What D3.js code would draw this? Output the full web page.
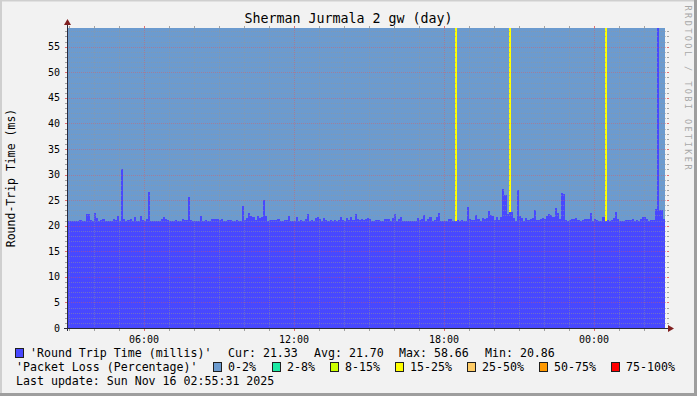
<!DOCTYPE html>
<html><head><meta charset="utf-8">
<script src="https://cdn.jsdelivr.net/npm/d3@7"></script>
<style>body{margin:0;background:#f2f2f2}svg{display:block}</style>
</head><body><svg id="c" width="697" height="396"></svg>
<script>
const chartTitle = "Sherman Jurmala 2 gw (day)";
const yAxisTitle = "Round-Trip Time (ms)";
const watermark = "RRDTOOL / TOBI OETIKER";
const startTime = new Date("2025-11-15T02:55:31Z");
const endTime = new Date("2025-11-16T02:55:31Z");
const stepSeconds = 300;
const yMax = 58.66;

// Round trip time, one value per 5-minute step (ms)
const rttValues = [
 20.9,20.9,21.0,20.9,20.9,21.0,21.1,20.9,20.9,22.3, 22.2,21.1,20.9,22.5,21.6,20.9,21.1,21.4,20.9,20.9,
 20.9,20.9,21.3,21.1,21.9,20.9,31.1,21.4,20.9,21.1, 21.3,20.9,21.7,20.9,20.9,21.9,21.2,20.9,21.3,26.5,
 21.0,20.9,20.9,20.9,20.9,21.3,21.7,21.3,21.1,20.9, 20.9,20.9,21.1,21.0,20.9,21.3,21.1,21.1,25.6,21.1,
 20.9,20.9,20.9,20.9,21.9,20.9,21.1,20.9,20.9,21.3, 21.3,21.3,21.3,21.1,21.3,20.9,20.9,21.1,21.1,20.9,
 20.9,21.1,20.9,20.9,23.9,21.1,21.5,22.5,21.9,21.7, 21.1,21.9,21.5,21.7,25.0,21.9,20.9,21.1,21.1,21.1,
 21.1,21.3,20.9,20.9,21.1,21.1,21.9,20.9,20.9,20.9, 21.7,20.9,21.1,20.9,21.3,22.3,20.9,21.1,20.9,21.5,
 21.7,21.3,20.9,21.5,21.1,20.9,21.1,20.9,21.1,20.9, 21.1,21.7,21.1,20.9,21.5,21.1,21.7,21.1,22.3,21.3,
 21.1,21.3,21.1,21.3,21.5,21.3,20.9,20.9,21.1,21.1, 20.9,20.9,21.3,21.3,21.3,20.9,21.5,22.3,20.9,21.3,
 21.7,20.9,20.9,20.9,20.9,20.9,20.9,20.9,21.5,21.1, 21.3,22.1,20.9,21.3,21.7,20.9,21.1,21.7,22.5,20.9,
 20.9,20.9,20.9,21.3,21.3,20.9,20.9,21.1,20.9,21.1, 20.9,20.9,23.7,21.3,21.1,21.1,22.1,21.3,20.9,21.5,
 21.3,21.5,22.9,22.1,21.9,21.1,21.7,21.1,21.7,27.2, 26.0,22.3,22.7,22.7,21.5,20.9,27.0,21.9,21.5,20.9,
 21.5,21.1,21.3,21.5,23.1,21.1,21.1,21.3,21.5,21.3, 21.9,22.3,22.1,21.7,23.5,22.5,21.3,26.3,26.2,21.1,
 20.9,21.1,21.3,21.3,21.5,21.1,20.9,21.1,21.3,21.3, 21.3,22.5,20.9,21.3,21.1,20.9,20.9,21.7,20.9,21.1,
 20.9,21.1,21.5,22.7,21.3,20.9,20.9,20.9,21.1,21.1, 21.1,21.3,20.9,21.1,20.9,21.3,21.7,21.7,21.3,20.9,
 21.1,21.1,23.3,58.66,23.1,23.1,21.33
];

// Packet loss events (all other steps: 0 %)
const lossTimes = ["2025-11-15T18:25:31Z", "2025-11-15T20:35:31Z", "2025-11-16T00:25:31Z"];
const lossPct = [20, 20, 20];

const lossCategories = ["0-2%", "2-8%", "8-15%", "15-25%", "25-50%", "50-75%", "75-100%"];
const lossUpper = [2, 8, 15, 25, 50, 75, 100];
const lossColors = ["#6c9bcf", "#1de9a4", "#ccff00", "#ffff00", "#ffcc66", "#ff9900", "#ff0000"];

const rttLabel = "'Round Trip Time (millis)'";
const lossLabel = "'Packet Loss (Percentage)'";
const statNames = ["Cur", "Avg", "Max", "Min"];
const statValues = [21.33, 21.70, 58.66, 20.86];
const lastUpdate = "Last update: Sun Nov 16 02:55:31 2025";

const rttColor = "#4848ff";
const mono = "DejaVu Sans Mono";

const svg = d3.select("#c");
const W = 697, H = 396;
const plot = {left: 67, top: 28, width: 600, height: 300};

// frame / shading
svg.append("rect").attr("width", W).attr("height", H).attr("fill", "#f2f2f2");
svg.append("rect").attr("x", 0).attr("y", 0).attr("width", W).attr("height", 1.5).attr("fill", "#cfcfcf");
svg.append("rect").attr("x", 0).attr("y", 0).attr("width", 2).attr("height", H).attr("fill", "#cfcfcf");
svg.append("rect").attr("x", W - 3).attr("y", 0).attr("width", 3).attr("height", H).attr("fill", "#9e9e9e");
svg.append("rect").attr("x", 0).attr("y", H - 3).attr("width", W).attr("height", 3).attr("fill", "#9e9e9e");

const x = d3.scaleUtc().domain([startTime, endTime])
  .range([plot.left, plot.left + plot.width]).interpolate(d3.interpolateRound);
const y = d3.scaleLinear().domain([0, yMax]).range([plot.top + plot.height, plot.top]);

const rttData = rttValues.map((v, i) => ({t: new Date(+startTime + i * stepSeconds * 1000), v}));
const lastT = new Date(+startTime + rttValues.length * stepSeconds * 1000);

// canvas
svg.append("rect").attr("x", plot.left).attr("y", plot.top)
  .attr("width", plot.width).attr("height", plot.height).attr("fill", "#f4f4f4");

// loss background (0-2% everywhere data exists)
const lossCat = p => lossUpper.findIndex(u => p <= u);
svg.append("rect")
  .attr("x", x(startTime)).attr("y", y(yMax))
  .attr("width", x(lastT) - x(startTime)).attr("height", y(0) - y(yMax))
  .attr("fill", lossColors[0]);
svg.append("g").selectAll("rect").data(lossTimes.map((t, i) => ({t: new Date(t), p: lossPct[i]})))
  .join("rect")
  .attr("x", d => x(d.t)).attr("y", y(yMax))
  .attr("width", d => x(new Date(+d.t + stepSeconds * 1000)) - x(d.t))
  .attr("height", y(0) - y(yMax))
  .attr("fill", d => lossColors[lossCat(d.p)]);

// RTT area
const area = d3.area().curve(d3.curveStepAfter)
  .x(d => x(d.t)).y0(y(0)).y1(d => y(d.v));
svg.append("path").datum(rttData.concat([{t: lastT, v: rttValues[rttValues.length - 1]}]))
  .attr("d", area).attr("fill", rttColor).attr("shape-rendering", "crispEdges");

// grid
const gridColor = "rgba(150,150,150,0.5)";
const mgridColor = "rgba(222,90,90,0.45)";
const g = svg.append("g").attr("stroke-width", 1).attr("stroke-dasharray", "1,1").attr("fill", "none")
  .attr("shape-rendering", "crispEdges");
const yMinor = d3.range(1, Math.floor(yMax) + 1).filter(v => v % 5 !== 0);
const yMajor = d3.range(5, yMax, 5);
const hours = x.ticks(d3.utcHour.every(1)).filter(t => +t > +startTime && +t < +endTime);
const hMinor = hours.filter(t => t.getUTCHours() % 6 !== 0);
const hMajor = hours.filter(t => t.getUTCHours() % 6 === 0);
const X0 = plot.left, X1 = plot.left + plot.width, Y0 = plot.top, Y1 = plot.top + plot.height;
const py = v => Math.round(y(v)) + 0.5;
const px = t => x(t) + 0.5;
g.selectAll(".hm").data(yMinor).join("line").attr("x1", X0).attr("x2", X1)
  .attr("y1", py).attr("y2", py).attr("stroke", gridColor);
g.selectAll(".vm").data(hMinor).join("line").attr("y1", Y0).attr("y2", Y1)
  .attr("x1", px).attr("x2", px).attr("stroke", "rgba(150,150,150,0.4)");
g.selectAll(".hM").data(yMajor).join("line").attr("x1", X0).attr("x2", X1)
  .attr("y1", py).attr("y2", py).attr("stroke", mgridColor);
g.selectAll(".vM").data(hMajor).join("line").attr("y1", Y0).attr("y2", Y1)
  .attr("x1", px).attr("x2", px).attr("stroke", mgridColor);

// small tick marks outside plot
const tk = svg.append("g").attr("stroke-width", 1).attr("shape-rendering", "crispEdges");
const tickGrey = "rgba(143,143,143,0.8)", tickRed = "rgba(222,79,79,0.8)";
[...yMinor.map(v => [v, tickGrey]), ...yMajor.map(v => [v, tickRed])].forEach(([v, c]) => {
  tk.append("line").attr("x1", X0 - 2).attr("x2", X0).attr("y1", py(v)).attr("y2", py(v)).attr("stroke", c);
  tk.append("line").attr("x1", X1).attr("x2", X1 + 2).attr("y1", py(v)).attr("y2", py(v)).attr("stroke", c);
});
[...hMinor.map(t => [t, tickGrey]), ...hMajor.map(t => [t, tickRed])].forEach(([t, c]) => {
  tk.append("line").attr("y1", Y0 - 2).attr("y2", Y0).attr("x1", px(t)).attr("x2", px(t)).attr("stroke", c);
  tk.append("line").attr("y1", Y1).attr("y2", Y1 + 3).attr("x1", px(t)).attr("x2", px(t)).attr("stroke", c);
});

// axes
const axisColor = "#2a2a3a", arrowColor = "#801f1f";
svg.append("line").attr("x1", X0 + 0.5).attr("x2", X0 + 0.5).attr("y1", Y1 + 3).attr("y2", Y0 - 4)
  .attr("stroke", axisColor);
svg.append("line").attr("x1", X0 - 3).attr("x2", X1 + 4).attr("y1", Y1 + 0.5).attr("y2", Y1 + 0.5)
  .attr("stroke", axisColor);
svg.append("path").attr("d", `M${X0 + 0.5},${Y0 - 9} L${X0 - 3},${Y0 - 3} L${X0 + 4},${Y0 - 3}Z`).attr("fill", arrowColor);
svg.append("path").attr("d", `M${X1 + 7},${Y1 + 0.5} L${X1 + 1},${Y1 - 3} L${X1 + 1},${Y1 + 4}Z`).attr("fill", arrowColor);

// y tick labels
svg.append("g").selectAll("text").data(d3.range(0, yMax, 5)).join("text")
  .attr("x", X0 - 7).attr("y", v => y(v) + 3.5).attr("text-anchor", "end")
  .attr("font-family", mono).attr("font-size", 10).attr("fill", "#000").text(v => v);

// x tick labels
const fmt = d3.utcFormat("%H:%M");
svg.append("g").selectAll("text").data(hMajor).join("text")
  .attr("x", d => x(d)).attr("y", Y1 + 15).attr("text-anchor", "middle")
  .attr("font-family", mono).attr("font-size", 10).attr("fill", "#000").text(fmt);

// title
svg.append("text").attr("x", 348.5).attr("y", 23).attr("text-anchor", "middle")
  .attr("font-family", mono).attr("font-size", 13.3).attr("fill", "#000").text(chartTitle);

// y axis title
svg.append("text").attr("transform", "translate(15,178) rotate(-90)").attr("text-anchor", "middle")
  .attr("font-family", mono).attr("font-size", 11.5).attr("fill", "#000").text(yAxisTitle);

// watermark
svg.append("text").attr("transform", "translate(685,87.5) rotate(90)").attr("text-anchor", "middle")
  .attr("font-family", mono).attr("font-size", 8.5).attr("fill", "#a8a8a8")
  .attr("textLength", 164).attr("lengthAdjust", "spacing").text(watermark);

// legend
const lf = 11.6;
const L = svg.append("g").attr("font-family", mono).attr("font-size", lf).attr("fill", "#000");
const box = (bx, by, col) => svg.append("rect").attr("x", bx + 0.5).attr("y", by + 0.5)
  .attr("width", 8).attr("height", 9).attr("fill", col).attr("stroke", "#1f1f1f").attr("stroke-width", 1);
box(15, 348, rttColor);
L.append("text").attr("x", 30).attr("y", 357).text(rttLabel);
const statX = [228, 314, 399, 485];
statNames.forEach((n, i) => L.append("text").attr("x", statX[i]).attr("y", 357)
  .text(`${n}: ${statValues[i].toFixed(2)}`));

L.append("text").attr("x", 16).attr("y", 371).text(lossLabel);
const lossLegX = [213, 272, 330, 395, 467, 539, 611];
lossCategories.forEach((c, i) => {
  box(lossLegX[i], 362, lossColors[i]);
  L.append("text").attr("x", lossLegX[i] + 15).attr("y", 371).text(c);
});
L.append("text").attr("x", 16).attr("y", 385).text(lastUpdate);
</script></body></html>
